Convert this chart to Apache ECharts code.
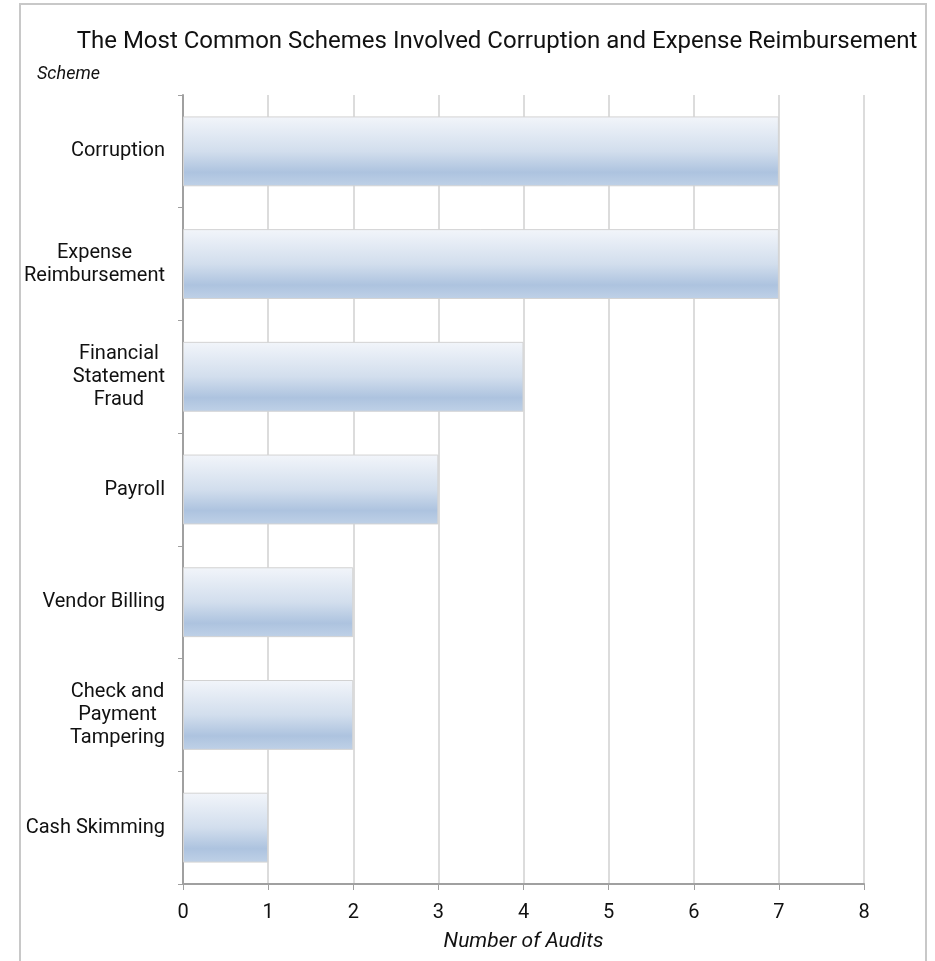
<!DOCTYPE html>
<html>
<head>
<meta charset="utf-8">
<script src="https://cdn.jsdelivr.net/npm/echarts@6/dist/echarts.min.js"></script>
<style>
html,body{margin:0;padding:0;background:#fff;}
#frame{position:absolute;left:19px;top:3px;width:908px;height:965px;border:2px solid #c8c8c8;box-sizing:border-box;}
#chart{position:absolute;left:0;top:0;width:935px;height:961px;}
</style>
</head>
<body>
<div id="frame"></div>
<div id="chart"></div>
<script>
const categories = ["Corruption", "Expense\nReimbursement", "Financial\nStatement\nFraud", "Payroll", "Vendor Billing", "Check and\nPayment\nTampering", "Cash Skimming"];
const audits = [7, 7, 4, 3, 2, 2, 1];
const xTicks = [0, 1, 2, 3, 4, 5, 6, 7, 8];
const titleText = "The Most Common Schemes Involved Corruption and Expense Reimbursement";
const yName = "Scheme";
const xName = "Number of Audits";

const chart = echarts.init(document.getElementById('chart'), null, {renderer: 'canvas'});
const font = 'Roboto, "Noto Sans", sans-serif';
chart.setOption({
  backgroundColor: 'transparent',
  animation: false,
  textStyle: {fontFamily: font},
  title: {
    text: titleText,
    left: 492, top: 25, textAlign: 'center',
    textStyle: {fontFamily: font, fontSize: 24, fontWeight: 'normal', color: '#111'}
  },
  graphic: [{
    type: 'text', left: 37, top: 65,
    style: {text: yName, fontFamily: font, fontSize: 18, fontStyle: 'italic', fill: '#111'}
  }],
  grid: {left: 183, right: 71, top: 95, bottom: 77, containLabel: false},
  xAxis: {
    type: 'value', min: xTicks[0], max: xTicks[xTicks.length - 1], interval: 1,
    name: xName, nameLocation: 'middle', nameGap: 47,
    nameTextStyle: {fontFamily: font, fontSize: 21, fontStyle: 'italic', color: '#111'},
    axisLine: {show: true, lineStyle: {color: '#a0a0a0', width: 2}},
    axisTick: {show: true, length: 6, lineStyle: {color: '#a0a0a0', width: 1}},
    axisLabel: {fontFamily: font, fontSize: 20, color: '#111', margin: 19},
    splitLine: {show: true, lineStyle: {color: '#dcdcdc', width: 2}}
  },
  yAxis: {
    type: 'category', inverse: true, data: categories,
    axisLine: {show: true, lineStyle: {color: '#a0a0a0', width: 2}},
    axisTick: {show: true, length: 5, lineStyle: {color: '#a0a0a0', width: 1}},
    axisLabel: {
      margin: 18, align: 'right', lineHeight: 23,
      formatter: v => v.split('\n').map(s => '{a|' + s + '}').join('\n'),
      rich: {a: {align: 'center', fontFamily: font, fontSize: 20, color: '#111', lineHeight: 23}}
    },
    splitLine: {show: false}
  },
  series: [{
    type: 'bar', data: audits, barWidth: '62%',
    itemStyle: {
      borderColor: '#d3d3d3', borderWidth: 1,
      color: new echarts.graphic.LinearGradient(0, 0, 0, 1, [
        {offset: 0, color: '#f2f5fa'},
        {offset: 0.5, color: '#d2deed'},
        {offset: 0.8, color: '#adc3df'},
        {offset: 1, color: '#bfd1e7'}
      ])
    }
  }]
});
</script>
</body>
</html>
